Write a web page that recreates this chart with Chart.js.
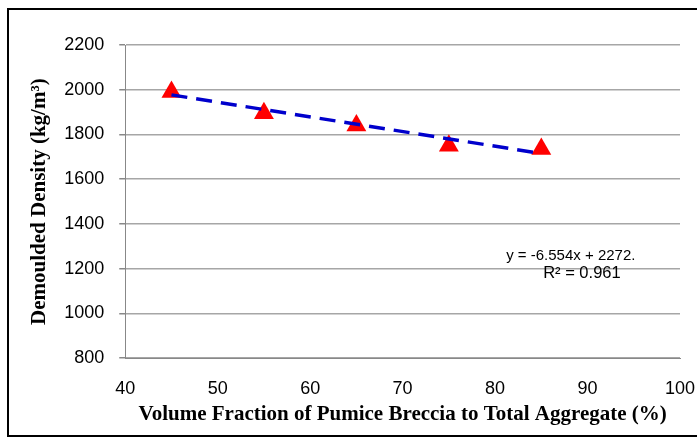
<!DOCTYPE html>
<html>
<head>
<meta charset="utf-8">
<script src="https://cdn.jsdelivr.net/npm/chart.js@4/dist/chart.umd.min.js"></script>
<style>
  html, body { margin: 0; padding: 0; background: #fff; }
  #wrap { width: 697px; height: 443px; position: relative; }
</style>
</head>
<body>
<div id="wrap"><canvas id="densityChart" width="697" height="443"></canvas></div>
<script>
// measured points
const fraction = [45, 55, 65, 75, 85];
const density = [1990, 1895, 1840, 1750, 1735];

// linear trend as printed on the chart
const slope = -6.554;
const intercept = 2272;
const trendX = [45, 85];
const yTicks = [800, 1000, 1200, 1400, 1600, 1800, 2000, 2200];
const xTicks = [40, 50, 60, 70, 80, 90, 100];

const points = fraction.map((x, i) => ({ x: x, y: density[i] }));
const trend = trendX.map(x => ({ x: x, y: slope * x + intercept }));

// frame + equation text
const extras = {
    id: "extras",
    afterDraw(chart) {
        const c = chart.ctx;
        const xs = chart.scales.x;
        const ys = chart.scales.y;
        c.save();
        c.strokeStyle = "#000";
        c.lineWidth = 2;
        c.strokeRect(8, 9, 700, 427);
        c.fillStyle = "#000";
        c.textAlign = "left";
        c.textBaseline = "alphabetic";
        c.font = "15px 'Liberation Sans', Arial, sans-serif";
        c.fillText("y = -6.554x + 2272.", xs.getPixelForValue(81.2), ys.getPixelForValue(1240));
        c.font = "16.5px 'Liberation Sans', Arial, sans-serif";
        c.fillText("R\u00b2 = 0.961", xs.getPixelForValue(85.2), ys.getPixelForValue(1160));
        c.restore();
    }
};

const ctx = document.getElementById("densityChart").getContext("2d");
const densityChart = new Chart(ctx, {
    type: "scatter",
    data: {
        datasets: [
            {
                type: "line",
                label: "trend",
                data: trend,
                borderColor: "#0000cc",
                borderWidth: 3.5,
                borderDash: [16, 9],
                pointRadius: 0,
                fill: false
            },
            {
                label: "density",
                data: points,
                pointStyle: "triangle",
                pointRadius: 11.5,
                backgroundColor: "#ff0000",
                borderColor: "#ff0000",
                borderWidth: 0
            }
        ]
    },
    options: {
        responsive: false,
        animation: false,
        layout: { padding: { left: 27, right: 17, top: 45, bottom: 16 } },
        plugins: {
            legend: { display: false },
            tooltip: { enabled: false }
        },
        scales: {
            x: {
                type: "linear",
                min: 40,
                max: 100,
                afterBuildTicks: axis => { axis.ticks = xTicks.map(v => ({ value: v })); },
                afterFit: axis => { axis.paddingRight = 0; },
                grid: { display: false, drawTicks: true, tickLength: 6, color: "#888" },
                border: { display: true, color: "#888", width: 1 },
                ticks: {
                    color: "#000",
                    font: { family: "'Liberation Sans', Arial", size: 18 },
                    padding: 14,
                    maxRotation: 0,
                    callback: v => String(v)
                },
                title: {
                    display: true,
                    text: "Volume Fraction of Pumice Breccia to Total Aggregate (%)",
                    color: "#000",
                    font: { family: "'Liberation Serif', 'Times New Roman'", size: 21, weight: "bold" },
                    padding: { top: -12, bottom: 0 }
                }
            },
            y: {
                min: 800,
                max: 2200,
                afterBuildTicks: axis => { axis.ticks = yTicks.map(v => ({ value: v })); },
                grid: { color: "#a6a6a6", lineWidth: 1.5, tickLength: 6, tickColor: "#888" },
                border: { display: true, color: "#888", width: 1 },
                ticks: {
                    color: "#000",
                    font: { family: "'Liberation Sans', Arial", size: 18 },
                    padding: 15,
                    callback: v => String(v)
                },
                title: {
                    display: true,
                    text: "Demoulded Density (kg/m\u00b3)",
                    color: "#000",
                    font: { family: "'Liberation Serif', 'Times New Roman'", size: 21, weight: "bold" },
                    padding: { top: 0, bottom: -3 }
                }
            }
        }
    },
    plugins: [extras]
});
</script>
</body>
</html>
